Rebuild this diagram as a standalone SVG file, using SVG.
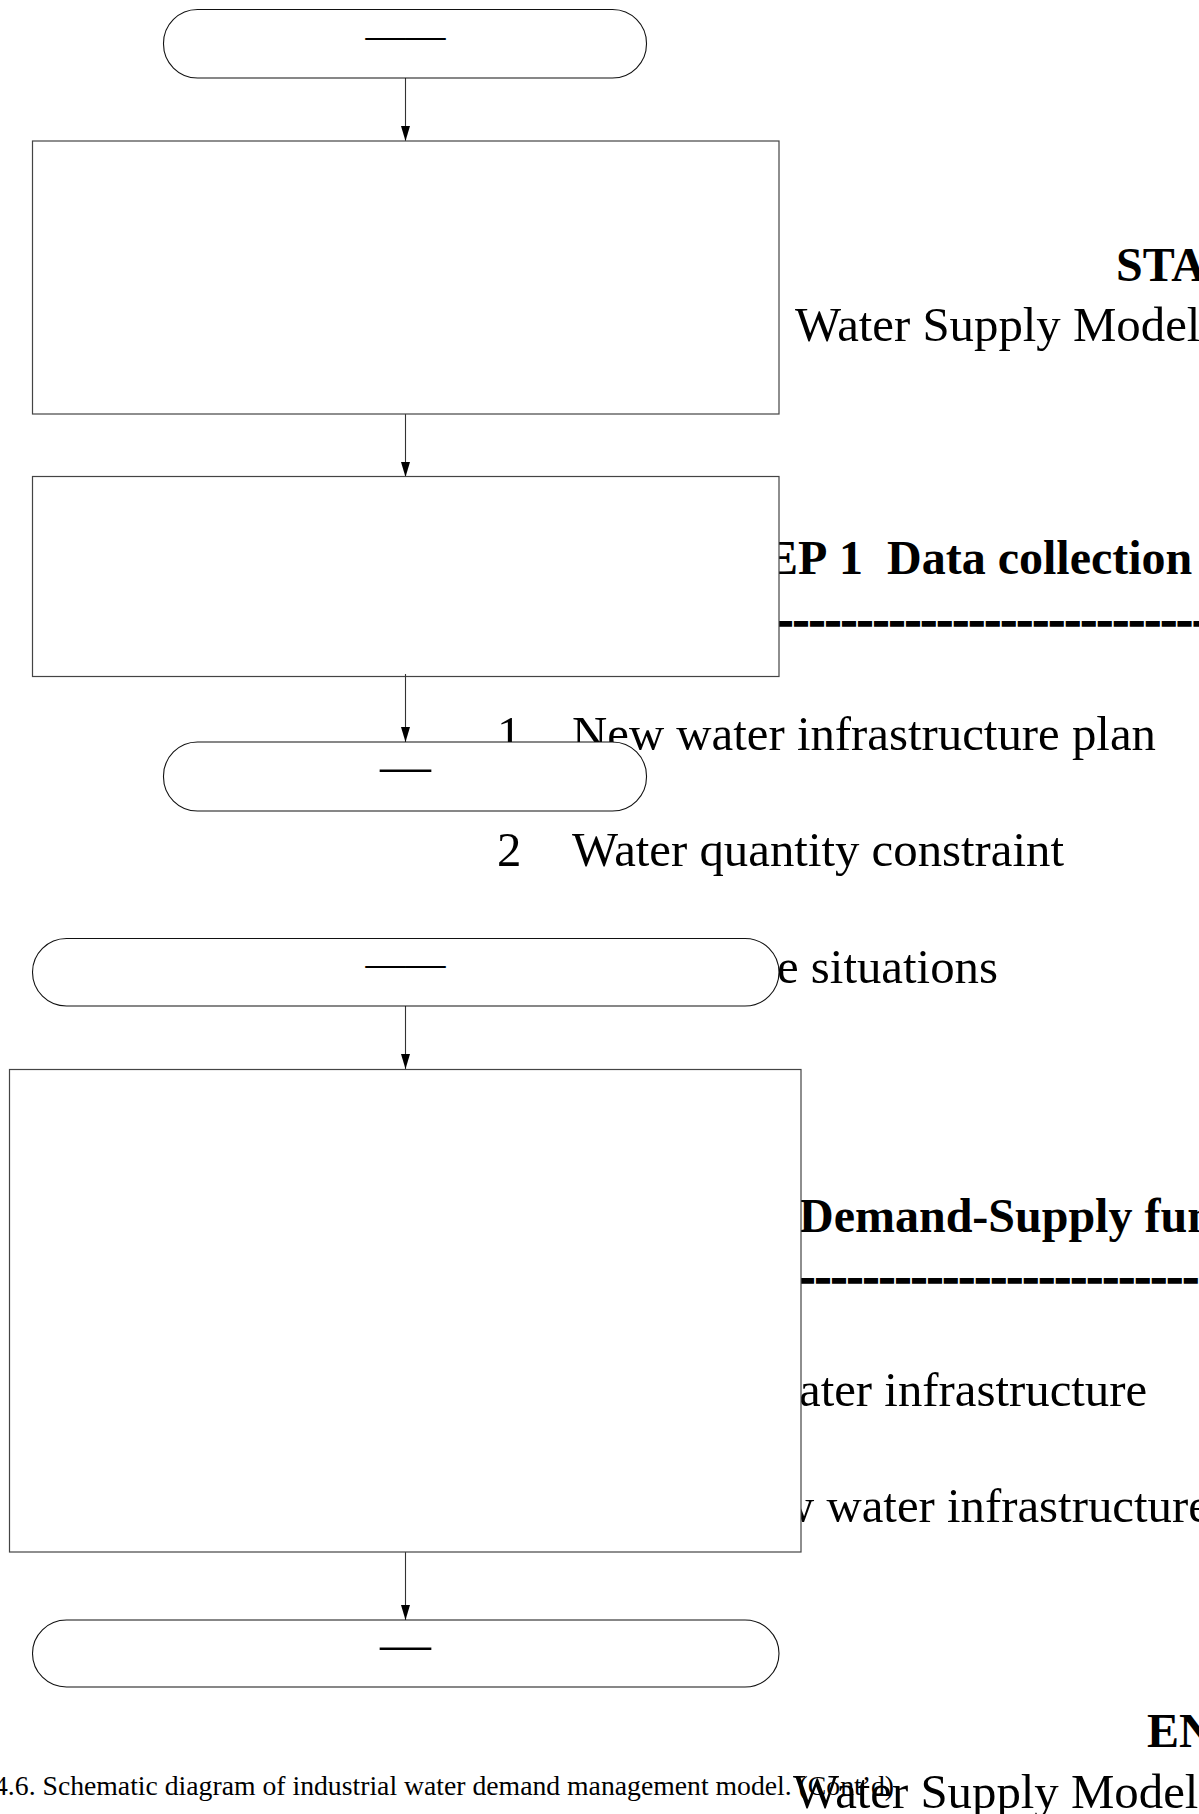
<svg xmlns="http://www.w3.org/2000/svg" width="1199" height="1814" viewBox="0 0 1199 1814">
  <style>
    .t { font-family: "Liberation Serif", "Times New Roman", serif; fill: #000; }
    .big { font-size: 48.8px; }
    .b { font-size: 48px; font-weight: bold; }
    .sep { font-size: 48px; font-weight: bold; stroke: #000; stroke-width: 1.6; }
    .cap { font-size: 27px; }
    .box { fill: #fff; stroke: #444; stroke-width: 1.2; }
    .term { fill: #fff; stroke: #111; stroke-width: 1.1; }
    .lbl { font-family: "Liberation Serif", "Times New Roman", serif; fill: #000; text-anchor: middle; }
    .conn { stroke: #333; stroke-width: 1.1; fill: none; marker-end: url(#arrow); }
  </style>
  <defs>
    <marker id="arrow" viewBox="0 0 15 9" refX="15" refY="4.5" markerWidth="15" markerHeight="9" markerUnits="userSpaceOnUse" orient="auto">
      <path d="M0,0 L15,4.5 L0,9 z" fill="#000"/>
    </marker>
  </defs>
  <rect width="1199" height="1814" fill="#fff"/>

  <!-- side notes, partly covered by the flow boxes -->
  <g id="notes">
    <text class="t b" x="1116" y="281">STA</text>
    <text class="t big" x="795" y="341">Water Supply Model</text>

    <text class="t b" x="766" y="574">EP<tspan x="839">1</tspan><tspan x="887">Data collection</tspan></text>
    <text class="t sep" x="777" y="635">---------------------------</text>

    <text class="t big" x="497" y="750">1<tspan x="572">New water infrastructure plan</tspan></text>
    <text class="t big" x="497" y="866">2<tspan x="572">Water quantity constraint</tspan></text>
    <text class="t big" x="777" y="983">e situations</text>

    <text class="t b" x="799" y="1232">Demand-Supply fun</text>
    <text class="t sep" x="799" y="1292">--------------------------</text>

    <text class="t big" x="799" y="1406">ater infrastructure</text>
    <text class="t big" x="779" y="1522">w water infrastructure</text>

    <text class="t b" x="1147" y="1747">EN</text>
    <text class="t cap" x="-6" y="1795" textLength="900" lengthAdjust="spacingAndGlyphs">4.6. Schematic diagram of industrial water demand management model. (Cont’d)</text>
    <text class="t big" x="793" y="1808">Water Supply Model</text>
  </g>

  <!-- flow connectors -->
  <g id="connectors">
    <line class="conn" x1="405.5" y1="78" x2="405.5" y2="141"/>
    <line class="conn" x1="405.5" y1="414" x2="405.5" y2="477"/>
    <line class="conn" x1="405.5" y1="674" x2="405.5" y2="742"/>
    <line class="conn" x1="405.5" y1="1006" x2="405.5" y2="1069"/>
    <line class="conn" x1="405.5" y1="1552" x2="405.5" y2="1620"/>
  </g>

  <g id="start-1">
    <rect class="term" x="163.5" y="9.5" width="483" height="68.5" rx="34" ry="34"/>
    <text class="lbl" x="405.5" y="48" font-size="40">——</text>
  </g>
  <g id="step-a">
    <rect class="box" x="32.5" y="141" width="746.5" height="273"/>
  </g>
  <g id="step-b">
    <rect class="box" x="32.5" y="476.5" width="746.5" height="200"/>
  </g>
  <!-- connector stub drawn over the lower edge of step-b -->
  <line x1="405.5" y1="674" x2="405.5" y2="677" stroke="#333" stroke-width="1.1"/>
  <g id="end-1">
    <rect class="term" x="163.5" y="742" width="483" height="69" rx="34" ry="34"/>
    <text class="lbl" x="405.5" y="783" font-size="51">—</text>
  </g>
  <g id="start-2">
    <rect class="term" x="32.5" y="938.5" width="746.5" height="67.5" rx="34" ry="34"/>
    <text class="lbl" x="405.5" y="976" font-size="40">——</text>
  </g>
  <g id="step-c">
    <rect class="box" x="9.5" y="1069.5" width="791.5" height="482.5"/>
  </g>
  <g id="end-2">
    <rect class="term" x="32.5" y="1620" width="746.5" height="67" rx="34" ry="34"/>
    <text class="lbl" x="405.5" y="1661" font-size="51">—</text>
  </g>
</svg>
